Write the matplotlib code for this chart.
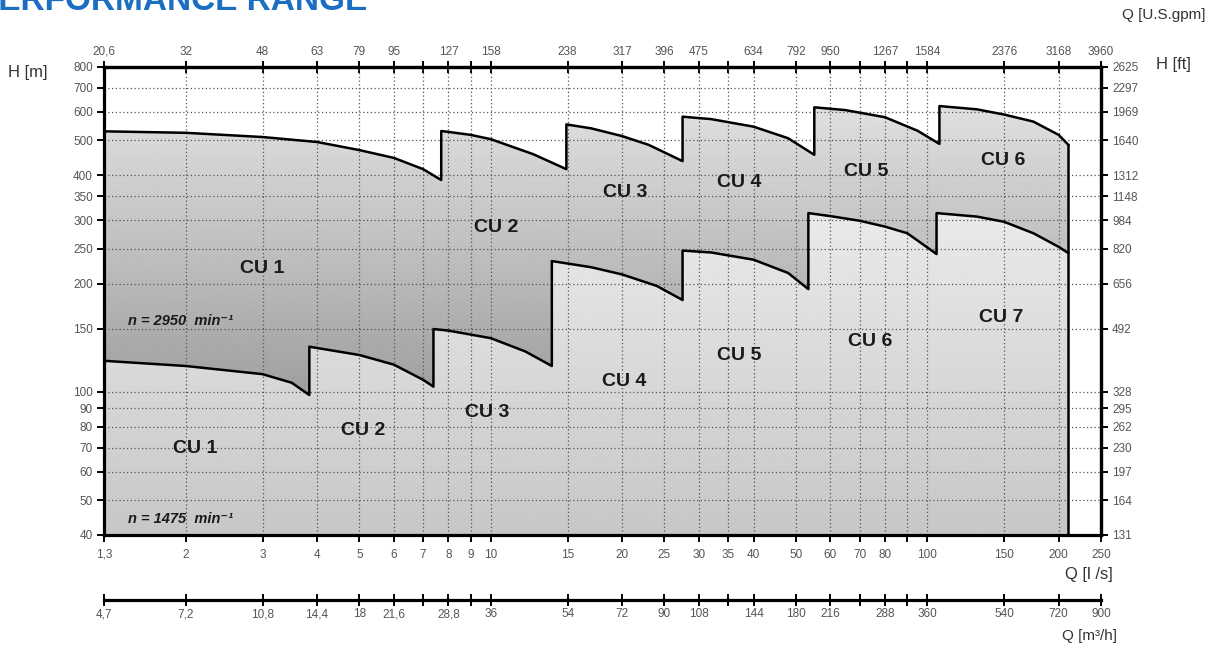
import numpy as np
import matplotlib
matplotlib.use("Agg")
import matplotlib.pyplot as plt
from matplotlib.patches import Polygon

plt.rcParams['font.family'] = ['Liberation Sans', 'DejaVu Sans']

# flow ticks in l/s with the labels of the three flow scales
q_ticks = [1.3, 2, 3, 4, 5, 6, 7, 8, 9, 10, 15, 20, 25, 30, 35, 40, 50, 60, 70, 80, 90, 100, 150, 200, 250]
q_labels = ["1,3", "2", "3", "4", "5", "6", "7", "8", "9", "10", "15", "20", "25", "30", "35", "40",
            "50", "60", "70", "80", "", "100", "150", "200", "250"]
gpm_labels = ["20,6", "32", "48", "63", "79", "95", "", "127", "", "158", "238", "317", "396", "475", "",
              "634", "792", "950", "", "1267", "", "1584", "2376", "3168", "3960"]
m3h_labels = ["4,7", "7,2", "10,8", "14,4", "18", "21,6", "", "28,8", "", "36", "54", "72", "90", "108", "",
              "144", "180", "216", "", "288", "", "360", "540", "720", "900"]

# head ticks in m and ft
h_ticks = [40, 50, 60, 70, 80, 90, 100, 150, 200, 250, 300, 350, 400, 500, 600, 700, 800]
ft_labels = ["131", "164", "197", "230", "262", "295", "328", "492", "656", "820", "984", "1148",
             "1312", "1640", "1969", "2297", "2625"]

# n = 2950 min-1 curves (Q l/s, H m)
hi_cu1_q = [1.3, 2, 3, 4, 5, 6, 7, 7.7]
hi_cu1_h = [530, 525, 511, 495, 470, 447, 416, 388]
hi_cu2_q = [7.7, 8, 9, 10, 12.5, 14.9]
hi_cu2_h = [531, 528, 518, 504, 458, 416]
hi_cu3_q = [14.9, 17, 20, 23, 27.5]
hi_cu3_h = [554, 540, 514, 486, 438]
hi_cu4_q = [27.5, 32, 40, 48, 55.1]
hi_cu4_h = [582, 573, 546, 507, 456]
hi_cu5_q = [55.1, 65, 80, 95, 106.6]
hi_cu5_h = [618, 607, 580, 532, 489]
hi_cu6_q = [106.6, 130, 150, 175, 200, 210.5]
hi_cu6_h = [623, 610, 590, 564, 518, 486]

# n = 1475 min-1 curves
lo_cu1_q = [1.3, 2, 3, 3.5, 3.84]
lo_cu1_h = [122, 118, 112, 106, 98]
lo_cu2_q = [3.84, 5, 6, 7, 7.39]
lo_cu2_h = [133.5, 126.6, 119, 108, 103.4]
lo_cu3_q = [7.39, 8, 10, 12, 13.8]
lo_cu3_h = [149.5, 148, 141, 129.5, 118]
lo_cu4_q = [13.8, 17, 20, 24, 27.5]
lo_cu4_h = [231, 222, 212, 197, 180]
lo_cu5_q = [27.5, 32, 40, 48, 53.4]
lo_cu5_h = [247, 244, 233, 214, 193]
lo_cu6_q = [53.4, 60, 70, 80, 90, 105]
lo_cu6_h = [314, 308, 299, 288, 276, 241.6]
lo_cu7_q = [105, 130, 150, 175, 200, 210.5]
lo_cu7_h = [314, 307, 297, 276, 253, 243]

# region labels
hi_names = ["CU 1", "CU 2", "CU 3", "CU 4", "CU 5", "CU 6"]
hi_label_q = [3.0, 10.3, 20.3, 37.1, 72.4, 149]
hi_label_h = [220, 287, 359, 383, 411, 441]
lo_names = ["CU 1", "CU 2", "CU 3", "CU 4", "CU 5", "CU 6", "CU 7"]
lo_label_q = [2.1, 5.1, 9.8, 20.2, 37.1, 74, 148]
lo_label_h = [69.8, 78.3, 87.9, 106.6, 125.8, 137.6, 160.5]

q_min, q_max = 1.3, 250
h_min, h_max = 40, 800

upper_q = np.concatenate([hi_cu1_q, hi_cu2_q, hi_cu3_q, hi_cu4_q, hi_cu5_q, hi_cu6_q])
upper_h = np.concatenate([hi_cu1_h, hi_cu2_h, hi_cu3_h, hi_cu4_h, hi_cu5_h, hi_cu6_h])
lower_q = np.concatenate([lo_cu1_q, lo_cu2_q, lo_cu3_q, lo_cu4_q, lo_cu5_q, lo_cu6_q, lo_cu7_q])
lower_h = np.concatenate([lo_cu1_h, lo_cu2_h, lo_cu3_h, lo_cu4_h, lo_cu5_h, lo_cu6_h, lo_cu7_h])

W, H = 1207, 651
fig = plt.figure(figsize=(W / 100, H / 100), dpi=100)
ax = fig.add_axes([104 / W, 116 / H, 997 / W, 468 / H])
ax.set_xscale('log')
ax.set_yscale('log')

# shaded regions: vertical gradients clipped to the two areas
band_poly = Polygon(np.column_stack([np.r_[upper_q, lower_q[::-1]], np.r_[upper_h, lower_h[::-1]]]),
                    closed=True, transform=ax.transData)
low_poly = Polygon(np.column_stack([np.r_[lower_q, lower_q[-1], lower_q[0]], np.r_[lower_h, h_min, h_min]]),
                   closed=True, transform=ax.transData)

grad = np.linspace(0, 1, 256).reshape(-1, 1)
band_img = ax.imshow(0.50 + 0.41 * grad, cmap='gray', vmin=0, vmax=1, origin='lower', aspect='auto',
                     extent=(0, 1, 0, 1), transform=ax.transAxes, zorder=0.2, interpolation='bilinear')
band_img.set_clip_path(band_poly)
low_img = ax.imshow(0.78 + 0.20 * grad, cmap='gray', vmin=0, vmax=1, origin='lower', aspect='auto',
                    extent=(0, 1, 0, 1), transform=ax.transAxes, zorder=0.3, interpolation='bilinear')
low_img.set_clip_path(low_poly)

# curves
line_kw = dict(color='black', lw=1.8, solid_joinstyle='round', zorder=3)
ax.plot(upper_q, upper_h, **line_kw)
ax.plot(lower_q, lower_h, **line_kw)
ax.plot([upper_q[-1], upper_q[-1]], [upper_h[-1], h_min], **line_kw)

ax.set_xlim(q_min, q_max)
ax.set_ylim(h_min, h_max)
ax.set_autoscale_on(False)

# grid
ax.set_axisbelow(True)
ax.grid(True, which='major', color='#555555', linestyle=(0, (1, 2)), lw=0.9)

tick_kw = dict(length=5, width=1.4, labelsize=8.5, labelcolor='#555555', color='black')
ax.set_xticks(q_ticks, labels=q_labels)
ax.set_yticks(h_ticks, labels=[str(v) for v in h_ticks])
ax.minorticks_off()
ax.tick_params(axis='x', direction='out', pad=5, **tick_kw)
ax.tick_params(axis='y', direction='out', pad=3, **tick_kw)
for s in ax.spines.values():
    s.set_linewidth(2.3)

top = ax.secondary_xaxis('top')
top.set_xticks(q_ticks, labels=gpm_labels)
top.minorticks_off()
top.tick_params(direction='inout', length=9, pad=2, **{k: v for k, v in tick_kw.items() if k != 'length'})
top.spines['top'].set_linewidth(2.3)

right = ax.secondary_yaxis('right')
right.set_yticks(h_ticks, labels=ft_labels)
right.minorticks_off()
right.tick_params(direction='out', pad=3, **tick_kw)
right.spines['right'].set_linewidth(2.3)

bottom2 = ax.secondary_xaxis(-0.139)
bottom2.set_xticks(q_ticks, labels=m3h_labels)
bottom2.minorticks_off()
bottom2.tick_params(direction='inout', length=8, pad=2, **{k: v for k, v in tick_kw.items() if k != 'length'})
bottom2.spines['bottom'].set_linewidth(2.3)

# region labels
for name, q, h in zip(hi_names, hi_label_q, hi_label_h):
    ax.text(q, h, name, ha='center', va='center', fontsize=14, fontweight='bold', color='#1a1a1a', zorder=4)
for name, q, h in zip(lo_names, lo_label_q, lo_label_h):
    ax.text(q, h, name, ha='center', va='center', fontsize=14, fontweight='bold', color='#1a1a1a', zorder=4)

ax.text(1.475, 157, "n = 2950  min\u207b\u00b9", ha='left', va='center', fontsize=10.5,
        fontweight='bold', style='italic', color='#1a1a1a', zorder=4)
ax.text(1.475, 44.3, "n = 1475  min\u207b\u00b9", ha='left', va='center', fontsize=10.5,
        fontweight='bold', style='italic', color='#1a1a1a', zorder=4)

# axis titles
lab_kw = dict(fontsize=12, color='#333333')
fig.text(8 / W, 1 - 72 / H, "H [m]", ha='left', va='center', **lab_kw)
fig.text(1156 / W, 1 - 65 / H, "H [ft]", ha='left', va='center', **lab_kw)
fig.text(1205 / W, 1 - 15 / H, "Q [U.S.gpm]", ha='right', va='center', fontsize=11, color='#333333')
fig.text(1113 / W, 1 - 574 / H, "Q [l /s]", ha='right', va='center', **lab_kw)
fig.text(1117 / W, 1 - 636 / H, "Q [m\u00b3/h]", ha='right', va='center', fontsize=11, color='#333333')

# heading, clipped by the top edge as in the source
fig.text(367 / W, 1 - 9.5 / H, "PERFORMANCE RANGE", ha='right', va='baseline', fontsize=24,
         fontweight='bold', color='#1b6ec2')

fig.savefig('out.png', dpi=100)
